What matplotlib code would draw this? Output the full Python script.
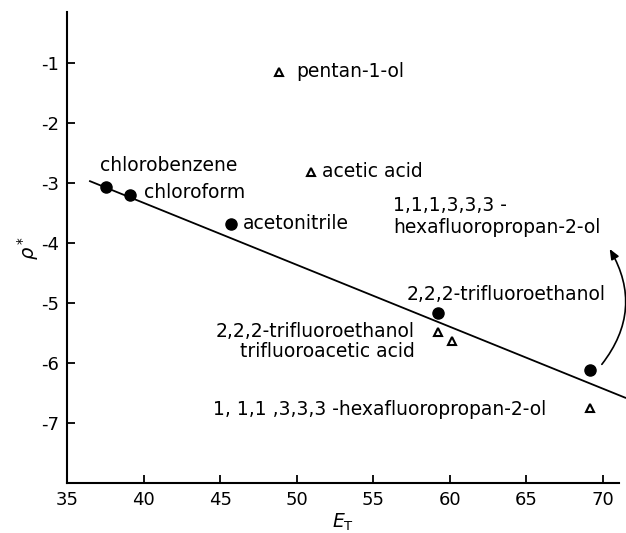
import matplotlib
matplotlib.use("Agg")
import matplotlib.pyplot as plt
from matplotlib.patches import FancyArrowPatch

# solvents on the line (filled circles)
dot_x = [37.55, 39.1, 45.7, 59.25, 69.16]
dot_y = [-3.07, -3.2, -3.68, -5.17, -6.11]

# open triangles
tri_x = [48.85, 50.94, 59.25, 60.13, 69.16]
tri_y = [-1.15, -2.81, -5.49, -5.64, -6.75]

# fitted line end points
fit_x = [36.5, 71.45]
fit_y = [-2.97, -6.58]

x_ticks = [35, 40, 45, 50, 55, 60, 65, 70]
y_ticks = [-1, -2, -3, -4, -5, -6, -7]

plt.rcParams['font.family'] = 'DejaVu Sans'
plt.rcParams['axes.unicode_minus'] = False

fig = plt.figure(figsize=(6.26, 5.33), dpi=100)
ax = fig.add_axes([0.107, 0.094, 0.882, 0.8835])

ax.plot(fit_x, fit_y, 'k-', lw=1.3, clip_on=False)
ax.plot(dot_x, dot_y, 'ko', ms=8, clip_on=False)
ax.plot(tri_x, tri_y, '^', mfc='white', mec='k', mew=1.5, ms=6, clip_on=False)

fs = 13.5
ax.text(37.16, -2.71, 'chlorobenzene', fontsize=fs, va='center')
ax.text(40.03, -3.16, 'chloroform', fontsize=fs, va='center')
ax.text(46.47, -3.68, 'acetonitrile', fontsize=fs, va='center')
ax.text(50.0, -1.15, 'pentan-1-ol', fontsize=fs, va='center')
ax.text(51.66, -2.81, 'acetic acid', fontsize=fs, va='center')
ax.text(56.29, -3.56, '1,1,1,3,3,3 -\nhexafluoropropan-2-ol', fontsize=fs,
        va='center', linespacing=1.2)
ax.text(57.19, -4.86, '2,2,2-trifluoroethanol', fontsize=fs, va='center')
ax.text(57.73, -5.64, '2,2,2-trifluoroethanol\ntrifluoroacetic acid', fontsize=fs,
        va='center', ha='right', multialignment='right', linespacing=1.1)
ax.text(44.54, -6.78, '1, 1,1 ,3,3,3 -hexafluoropropan-2-ol', fontsize=fs, va='center')

arrow = FancyArrowPatch((69.81, -6.06), (70.34, -4.06),
                        connectionstyle='arc3,rad=0.35',
                        arrowstyle='-|>,head_length=6,head_width=2.5',
                        color='k', lw=1.2, clip_on=False)
ax.add_patch(arrow)

ax.set_xlim(35, 71.05)
ax.set_ylim(-8, -0.15)
ax.set_xticks(x_ticks)
ax.set_yticks(y_ticks)
ax.spines['top'].set_visible(False)
ax.spines['right'].set_visible(False)
ax.spines['left'].set_linewidth(1.5)
ax.spines['bottom'].set_linewidth(1.5)
ax.tick_params(direction='in', length=6, width=1.3, labelsize=13, pad=6)
ax.set_xlabel(r'$E_\mathrm{T}$', fontsize=13.5, labelpad=2)
ax.set_ylabel(r'$\rho^*$', fontsize=14, labelpad=0)

fig.savefig('out.png', dpi=100)
